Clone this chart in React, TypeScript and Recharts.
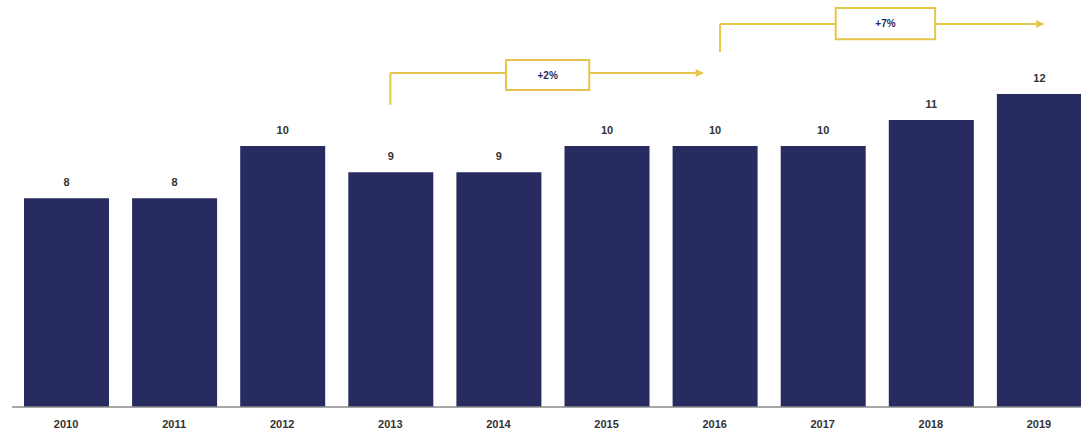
import React from "react";
import {
  BarChart,
  Bar,
  XAxis,
  YAxis,
  LabelList,
  ReferenceLine,
  ReferenceArea,
  ReferenceDot,
} from "recharts";

const years = ["2010", "2011", "2012", "2013", "2014", "2015", "2016", "2017", "2018", "2019"];
const values = [8, 8, 10, 9, 9, 10, 10, 10, 11, 12];
const tickIdx = [0, 1, 2, 3, 4, 5, 6, 7, 8, 9];

// growth annotations (data units: x = bar index, y = value)
const growthLabels = ["+2%", "+7%"];
const bracket1 = { x0: 3, x1: 5.89, yLow: 11.58, yHigh: 12.8, bx1: 4.07, bx2: 4.84, by1: 12.15, by2: 13.3 };
const bracket2 = { x0: 6.05, x1: 9.04, yLow: 13.61, yHigh: 14.68, bx1: 7.12, bx2: 8.04, by1: 14.1, by2: 15.29 };

const data = years.map((y, i) => ({ idx: i, year: y, value: values[i] }));

const NAVY = "#272B60";
const GOLD = "#E5C64A";
const FONT = "'Liberation Sans', Arial, sans-serif";

const Arrow = (props: any) => {
  const { cx, cy } = props;
  if (cx == null || cy == null) return null;
  return <polygon points={`${cx - 7},${cy - 4} ${cx + 1},${cy} ${cx - 7},${cy + 4}`} fill={GOLD} />;
};

function renderBracket(b: typeof bracket1, label: string, key: string) {
  return [
    <ReferenceLine
      key={key + "v"}
      segment={[{ x: b.x0, y: b.yLow }, { x: b.x0, y: b.yHigh }]}
      stroke={GOLD}
      strokeWidth={2}
      ifOverflow="visible"
    />,
    <ReferenceLine
      key={key + "h1"}
      segment={[{ x: b.x0, y: b.yHigh }, { x: b.bx1, y: b.yHigh }]}
      stroke={GOLD}
      strokeWidth={2}
      ifOverflow="visible"
    />,
    <ReferenceLine
      key={key + "h2"}
      segment={[{ x: b.bx2, y: b.yHigh }, { x: b.x1, y: b.yHigh }]}
      stroke={GOLD}
      strokeWidth={2}
      ifOverflow="visible"
    />,
    <ReferenceDot
      key={key + "a"}
      x={b.x1}
      y={b.yHigh}
      r={4}
      ifOverflow="visible"
      shape={Arrow}
    />,
    <ReferenceArea
      key={key + "b"}
      x1={b.bx1}
      x2={b.bx2}
      y1={b.by1}
      y2={b.by2}
      fill="#ffffff"
      fillOpacity={1}
      stroke={GOLD}
      strokeWidth={2}
      ifOverflow="visible"
      label={{
        value: label,
        position: "center",
        fill: NAVY,
        fontSize: 10,
        fontWeight: 700,
        fontFamily: FONT,
      }}
    />,
  ];
}

export default function App() {
  return (
    <div
      style={{
        position: "absolute",
        left: 0,
        top: 0,
        width: 1081,
        height: 435,
        overflow: "hidden",
        background: "#ffffff",
      }}
    >
      <BarChart
        width={1093}
        height={435}
        data={data}
        margin={{ top: 0, right: 0, bottom: 0, left: 12 }}
      >
        <XAxis
          dataKey="idx"
          type="number"
          domain={[-0.5, 9.5]}
          ticks={tickIdx}
          tickFormatter={(v: number) => years[v]}
          tickLine={false}
          tickMargin={7}
          axisLine={{ stroke: "#8a8a8a", strokeWidth: 1.5 }}
          height={28}
          tick={{ fill: "#333333", fontSize: 11, fontWeight: 700, fontFamily: FONT }}
          interval={0}
        />
        <YAxis hide domain={[0, 15.6]} type="number" />
        <Bar dataKey="value" fill={NAVY} barSize={85} isAnimationActive={false}>
          <LabelList
            dataKey="value"
            position="top"
            offset={12}
            fill="#333333"
            fontSize={11}
            fontWeight={700}
            fontFamily={FONT}
          />
        </Bar>
        {renderBracket(bracket1, growthLabels[0], "b1")}
        {renderBracket(bracket2, growthLabels[1], "b2")}
      </BarChart>
    </div>
  );
}
